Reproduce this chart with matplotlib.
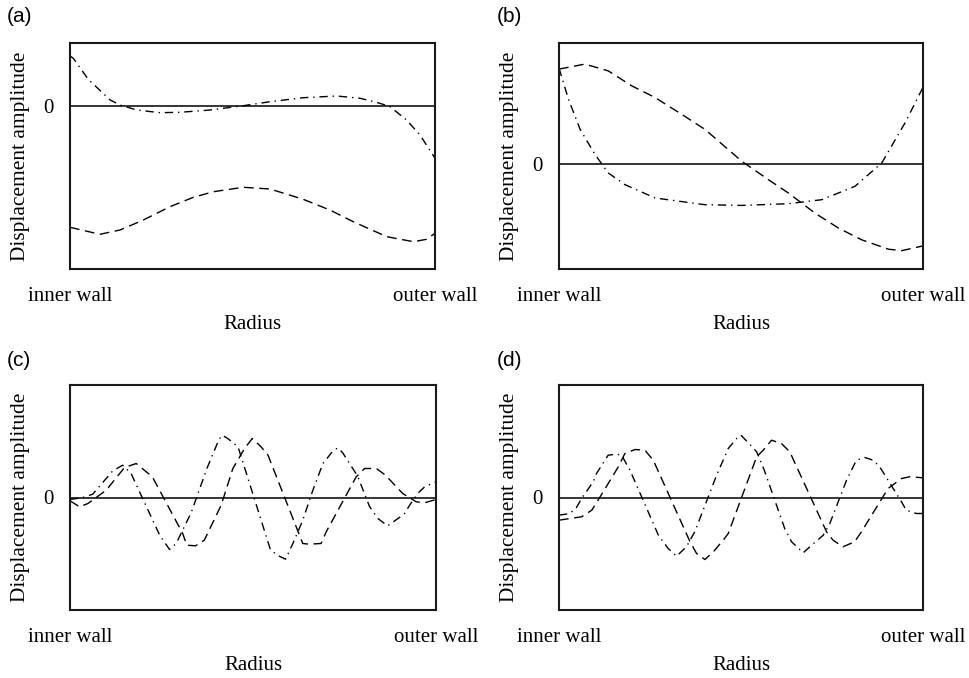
import matplotlib
matplotlib.use("Agg")
import matplotlib.pyplot as plt

# ── values (x: inner wall = 0 .. outer wall = 1) ──
# (a)
a_dd_x = [0.0, 0.009, 0.05, 0.11, 0.137, 0.183, 0.247, 0.301, 0.384, 0.475, 0.548,
          0.639, 0.731, 0.795, 0.849, 0.877, 0.922, 0.959, 1.0]
a_dd_y = [0.50, 0.477, 0.267, 0.06, 0.01, -0.04, -0.067, -0.063, -0.04, 0.003, 0.043,
          0.083, 0.10, 0.077, 0.027, -0.007, -0.14, -0.29, -0.523]
a_da_x = [0.0, 0.082, 0.137, 0.201, 0.274, 0.338, 0.393, 0.475, 0.548, 0.639, 0.712,
          0.776, 0.868, 0.941, 0.977, 1.0]
a_da_y = [-1.213, -1.283, -1.24, -1.14, -1.007, -0.913, -0.857, -0.813, -0.83, -0.933,
          -1.04, -1.157, -1.307, -1.357, -1.333, -1.273]

# (b)
b_dd_x = [0.0, 0.026, 0.058, 0.099, 0.135, 0.181, 0.264, 0.401, 0.502, 0.63, 0.722,
          0.813, 0.887, 0.951, 0.995, 1.0]
b_dd_y = [0.95, 0.64, 0.34, 0.09, -0.093, -0.21, -0.343, -0.41, -0.417, -0.40, -0.36,
          -0.227, 0.007, 0.407, 0.723, 0.76]
b_da_x = [0.0, 0.071, 0.135, 0.20, 0.264, 0.337, 0.401, 0.502, 0.575, 0.63, 0.703,
          0.768, 0.832, 0.905, 0.942, 1.0]
b_da_y = [0.94, 0.99, 0.923, 0.773, 0.657, 0.49, 0.34, 0.023, -0.16, -0.293, -0.493,
          -0.643, -0.76, -0.853, -0.867, -0.82]

# (c)
c_dd_x = [0.0, 0.035, 0.062, 0.117, 0.144, 0.167, 0.19, 0.245, 0.272, 0.29, 0.331,
          0.374, 0.407, 0.416, 0.431, 0.459, 0.472, 0.548, 0.572, 0.589, 0.609, 0.636,
          0.662, 0.691, 0.718, 0.732, 0.745, 0.786, 0.818, 0.841, 0.868, 0.9, 0.914,
          0.928, 0.95, 0.969, 1.0]
c_dd_y = [-0.02, 0.0, 0.033, 0.267, 0.323, 0.24, 0.057, -0.377, -0.52, -0.46, -0.153,
          0.29, 0.58, 0.623, 0.59, 0.507, 0.357, -0.527, -0.587, -0.617, -0.46, -0.227,
          0.057, 0.34, 0.463, 0.497, 0.447, 0.213, -0.087, -0.21, -0.283, -0.20, -0.16,
          -0.077, 0.04, 0.107, 0.157]
c_da_x = [0.0, 0.026, 0.049, 0.099, 0.149, 0.181, 0.194, 0.225, 0.308, 0.319, 0.343,
          0.367, 0.413, 0.445, 0.477, 0.498, 0.522, 0.541, 0.636, 0.653, 0.686, 0.70,
          0.782, 0.805, 0.837, 0.862, 0.909, 0.946, 0.969, 1.0]
c_da_y = [-0.033, -0.093, -0.06, 0.073, 0.30, 0.34, 0.30, 0.207, -0.36, -0.477, -0.483,
          -0.427, -0.077, 0.29, 0.49, 0.59, 0.507, 0.423, -0.46, -0.467, -0.46, -0.343,
          0.207, 0.29, 0.29, 0.223, 0.04, -0.043, -0.053, -0.02]

# (d)
d_dd_x = [0.0, 0.03, 0.048, 0.062, 0.094, 0.103, 0.135, 0.158, 0.172, 0.195, 0.263,
          0.273, 0.30, 0.323, 0.35, 0.373, 0.403, 0.433, 0.465, 0.488, 0.50, 0.522,
          0.543, 0.564, 0.62, 0.639, 0.671, 0.694, 0.726, 0.744, 0.79, 0.817, 0.84,
          0.863, 0.881, 0.941, 0.954, 0.982, 1.0]
d_dd_y = [-0.177, -0.16, -0.10, -0.01, 0.157, 0.24, 0.423, 0.433, 0.423, 0.273, -0.293,
          -0.377, -0.51, -0.587, -0.493, -0.343, -0.06, 0.223, 0.49, 0.59, 0.623, 0.54,
          0.457, 0.273, -0.31, -0.443, -0.553, -0.477, -0.377, -0.26, 0.173, 0.373, 0.40,
          0.373, 0.307, -0.043, -0.127, -0.16, -0.16]
d_da_x = [0.0, 0.03, 0.062, 0.09, 0.113, 0.163, 0.181, 0.209, 0.236, 0.259, 0.36,
          0.378, 0.401, 0.424, 0.451, 0.465, 0.543, 0.561, 0.584, 0.611, 0.634, 0.735,
          0.753, 0.78, 0.812, 0.831, 0.904, 0.941, 0.963, 1.0]
d_da_y = [-0.227, -0.21, -0.193, -0.127, 0.007, 0.307, 0.44, 0.48, 0.473, 0.373, -0.443,
          -0.56, -0.62, -0.543, -0.427, -0.36, 0.407, 0.473, 0.573, 0.54, 0.457, -0.343,
          -0.427, -0.493, -0.443, -0.343, 0.09, 0.19, 0.207, 0.197]

PANELS = [
    ("(a)", a_dd_x, a_dd_y, a_da_x, a_da_y, (-1.63, 0.63)),
    ("(b)", b_dd_x, b_dd_y, b_da_x, b_da_y, (-1.05, 1.20)),
    ("(c)", c_dd_x, c_dd_y, c_da_x, c_da_y, (-1.125, 1.125)),
    ("(d)", d_dd_x, d_dd_y, d_da_x, d_da_y, (-1.125, 1.125)),
]

W, H = 970, 678
# axes boxes in pixels: left, top, right, bottom
BOXES = [(70, 43, 435, 269), (559, 43, 923, 269),
         (70, 385, 436, 610), (559, 385, 923, 610)]
LETTERS = [(7, 17), (497, 17), (7, 361), (497, 361)]

SERIF = ["Liberation Serif", "DejaVu Serif"]
SANS = ["Liberation Sans", "DejaVu Sans"]

fig = plt.figure(figsize=(W / 100, H / 100), dpi=100)

for (tag, ddx, ddy, dax, day, ylim), (l, t, r, b), (lx, ly) in zip(PANELS, BOXES, LETTERS):
    ax = fig.add_axes([l / W, 1 - b / H, (r - l) / W, (b - t) / H])
    ax.axhline(0, color="black", lw=1.1, zorder=1)
    ax.plot(dax, day, color="black", lw=1.0, dashes=(7, 4), zorder=2)
    ax.plot(ddx, ddy, color="black", lw=1.0, dashes=(6, 3.5, 1, 3.5), zorder=2)
    ax.set_xlim(0, 1)
    ax.set_ylim(*ylim)
    for s in ax.spines.values():
        s.set_linewidth(1.5)
        s.set_color("#1a1a1a")
    ax.set_xticks([0, 1])
    ax.set_xticklabels(["inner wall", "outer wall"], fontsize=15, family=SERIF)
    ax.set_yticks([0])
    ax.set_yticklabels(["0"], fontsize=15, family=SERIF)
    ax.tick_params(axis="x", length=0, pad=13)
    ax.tick_params(axis="y", length=0, pad=12)
    ax.set_xlabel("Radius", fontsize=15, family=SERIF)
    ax.xaxis.set_label_coords(0.5, -0.205)
    ax.set_ylabel("Displacement amplitude", fontsize=15.4, family=SERIF)
    ax.yaxis.set_label_coords(-40 / (r - l), 0.5)
    fig.text(lx / W, 1 - ly / H, tag, fontsize=15, family=SANS, ha="left", va="center")

fig.savefig("out.png", dpi=100)
